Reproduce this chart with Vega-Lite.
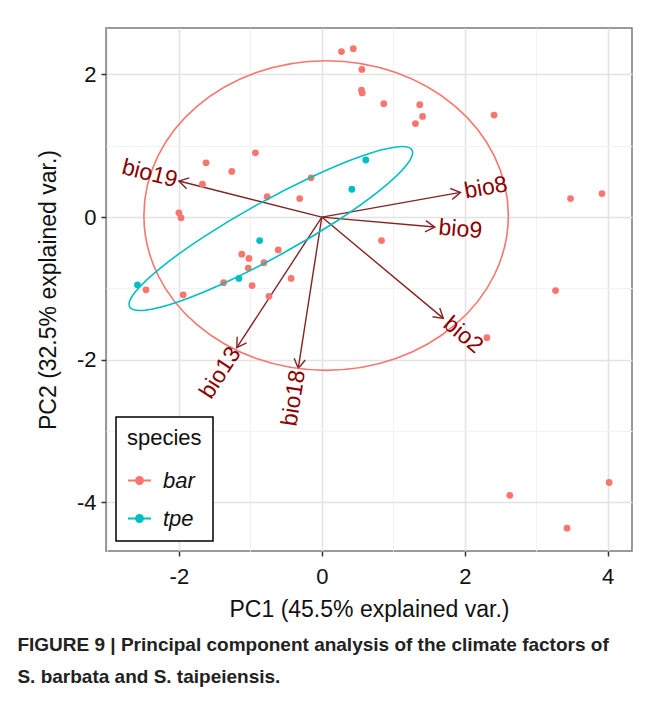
{
  "$schema": "https://vega.github.io/schema/vega-lite/v6.json",
  "width": 526,
  "height": 523,
  "autosize": "none",
  "padding": {"left": 106, "top": 28, "right": 22, "bottom": 165},
  "background": "white",
  "config": {
    "font": "Liberation Sans",
    "view": {"stroke": "#7a7a7a", "strokeWidth": 1.5},
    "legend": {"strokeWidth": 1.5}
  },
  "title": {
    "text": ["FIGURE 9 | Principal component analysis of the climate factors of", "S. barbata and S. taipeiensis."],
    "orient": "bottom",
    "anchor": "start",
    "dx": -20,
    "offset": 15,
    "font": "Liberation Sans Narrow, Liberation Sans",
    "fontSize": 19,
    "fontWeight": "bold",
    "lineHeight": 32,
    "color": "#222222"
  },
  "datasets": {
    "points": [
      {"pc1": 0.275, "pc2": 2.32, "species": "bar"},
      {"pc1": 0.44, "pc2": 2.36, "species": "bar"},
      {"pc1": 0.56, "pc2": 2.07, "species": "bar"},
      {"pc1": 0.555, "pc2": 1.78, "species": "bar"},
      {"pc1": 0.565, "pc2": 1.74, "species": "bar"},
      {"pc1": 0.867, "pc2": 1.59, "species": "bar"},
      {"pc1": 1.37, "pc2": 1.575, "species": "bar"},
      {"pc1": 1.41, "pc2": 1.41, "species": "bar"},
      {"pc1": 1.31, "pc2": 1.31, "species": "bar"},
      {"pc1": 2.41, "pc2": 1.43, "species": "bar"},
      {"pc1": 3.48, "pc2": 0.26, "species": "bar"},
      {"pc1": 3.92, "pc2": 0.33, "species": "bar"},
      {"pc1": -0.93, "pc2": 0.9, "species": "bar"},
      {"pc1": -1.62, "pc2": 0.76, "species": "bar"},
      {"pc1": -1.26, "pc2": 0.64, "species": "bar"},
      {"pc1": -1.67, "pc2": 0.46, "species": "bar"},
      {"pc1": -0.15, "pc2": 0.55, "species": "bar"},
      {"pc1": -0.765, "pc2": 0.285, "species": "bar"},
      {"pc1": -0.31, "pc2": 0.26, "species": "bar"},
      {"pc1": -2.0, "pc2": 0.06, "species": "bar"},
      {"pc1": -1.97, "pc2": -0.01, "species": "bar"},
      {"pc1": -1.12, "pc2": -0.52, "species": "bar"},
      {"pc1": -1.02, "pc2": -0.58, "species": "bar"},
      {"pc1": -0.61, "pc2": -0.46, "species": "bar"},
      {"pc1": -0.81, "pc2": -0.64, "species": "bar"},
      {"pc1": -1.03, "pc2": -0.715, "species": "bar"},
      {"pc1": -1.375, "pc2": -0.92, "species": "bar"},
      {"pc1": -0.975, "pc2": -0.96, "species": "bar"},
      {"pc1": -0.43, "pc2": -0.86, "species": "bar"},
      {"pc1": -2.46, "pc2": -1.02, "species": "bar"},
      {"pc1": -1.94, "pc2": -1.09, "species": "bar"},
      {"pc1": -0.74, "pc2": -1.11, "species": "bar"},
      {"pc1": 0.835, "pc2": -0.33, "species": "bar"},
      {"pc1": 3.27, "pc2": -1.03, "species": "bar"},
      {"pc1": 2.31, "pc2": -1.69, "species": "bar"},
      {"pc1": 2.63, "pc2": -3.9, "species": "bar"},
      {"pc1": 4.02, "pc2": -3.72, "species": "bar"},
      {"pc1": 3.43, "pc2": -4.36, "species": "bar"},
      {"pc1": 0.615, "pc2": 0.8, "species": "tpe"},
      {"pc1": 0.42, "pc2": 0.39, "species": "tpe"},
      {"pc1": -0.87, "pc2": -0.33, "species": "tpe"},
      {"pc1": -1.16, "pc2": -0.86, "species": "tpe"},
      {"pc1": -2.58, "pc2": -0.95, "species": "tpe"}
    ],
    "arrows": [
      {"var": "bio19", "pc1": -2.0, "pc2": 0.505},
      {"var": "bio8", "pc1": 1.94, "pc2": 0.346},
      {"var": "bio9", "pc1": 1.58, "pc2": -0.14},
      {"var": "bio2", "pc1": 1.7, "pc2": -1.42},
      {"var": "bio13", "pc1": -1.19, "pc2": -1.83},
      {"var": "bio18", "pc1": -0.33, "pc2": -2.12}
    ],
    "ellipses": [
      {"species": "bar", "i": 0, "pc1": 2.61, "pc2": 0.022},
      {"species": "bar", "i": 1, "pc1": 2.416, "pc2": 0.852},
      {"species": "bar", "i": 2, "pc1": 1.863, "pc2": 1.556},
      {"species": "bar", "i": 3, "pc1": 1.036, "pc2": 2.027},
      {"species": "bar", "i": 4, "pc1": 0.06, "pc2": 2.192},
      {"species": "bar", "i": 5, "pc1": -0.916, "pc2": 2.027},
      {"species": "bar", "i": 6, "pc1": -1.743, "pc2": 1.556},
      {"species": "bar", "i": 7, "pc1": -2.296, "pc2": 0.852},
      {"species": "bar", "i": 8, "pc1": -2.49, "pc2": 0.022},
      {"species": "bar", "i": 9, "pc1": -2.296, "pc2": -0.808},
      {"species": "bar", "i": 10, "pc1": -1.743, "pc2": -1.512},
      {"species": "bar", "i": 11, "pc1": -0.916, "pc2": -1.983},
      {"species": "bar", "i": 12, "pc1": 0.06, "pc2": -2.148},
      {"species": "bar", "i": 13, "pc1": 1.036, "pc2": -1.983},
      {"species": "bar", "i": 14, "pc1": 1.863, "pc2": -1.512},
      {"species": "bar", "i": 15, "pc1": 2.416, "pc2": -0.808},
      {"species": "tpe", "i": 0, "pc1": 1.262, "pc2": 0.938},
      {"species": "tpe", "i": 1, "pc1": 1.04, "pc2": 0.983},
      {"species": "tpe", "i": 2, "pc1": 0.551, "pc2": 0.854},
      {"species": "tpe", "i": 3, "pc1": -0.13, "pc2": 0.57},
      {"species": "tpe", "i": 4, "pc1": -0.9, "pc2": 0.175},
      {"species": "tpe", "i": 5, "pc1": -1.642, "pc2": -0.271},
      {"species": "tpe", "i": 6, "pc1": -2.242, "pc2": -0.7},
      {"species": "tpe", "i": 7, "pc1": -2.609, "pc2": -1.048},
      {"species": "tpe", "i": 8, "pc1": -2.688, "pc2": -1.26},
      {"species": "tpe", "i": 9, "pc1": -2.466, "pc2": -1.305},
      {"species": "tpe", "i": 10, "pc1": -1.977, "pc2": -1.176},
      {"species": "tpe", "i": 11, "pc1": -1.296, "pc2": -0.892},
      {"species": "tpe", "i": 12, "pc1": -0.526, "pc2": -0.497},
      {"species": "tpe", "i": 13, "pc1": 0.216, "pc2": -0.051},
      {"species": "tpe", "i": 14, "pc1": 0.816, "pc2": 0.378},
      {"species": "tpe", "i": 15, "pc1": 1.183, "pc2": 0.726}
    ]
  },
  "encoding": {
    "x": {
      "field": "pc1",
      "type": "quantitative",
      "scale": {"domain": [-3.02, 4.34], "nice": false, "zero": false},
      "axis": {
        "title": "PC1 (45.5% explained var.)",
        "values": [-3, -2, -1, 0, 1, 2, 3, 4],
        "labelExpr": "datum.value % 2 === 0 ? '' + datum.value : ''",
        "domain": false,
        "tickSize": 5,
        "tickWidth": 1.5,
        "tickColor": {"condition": {"test": "datum.value % 2 === 0", "value": "#333333"}, "value": "transparent"},
        "gridColor": {"condition": {"test": "datum.value % 2 === 0", "value": "#e3e3e3"}, "value": "#f2f2f2"},
        "gridWidth": {"condition": {"test": "datum.value % 2 === 0", "value": 1.6}, "value": 1},
        "labelFontSize": 22,
        "labelColor": "#111111",
        "labelPadding": 10,
        "labelOverlap": false,
        "labelFlush": false,
        "titleFontSize": 23,
        "titleFontWeight": "normal",
        "titleColor": "#111111",
        "titlePadding": 11
      }
    },
    "y": {
      "field": "pc2",
      "type": "quantitative",
      "scale": {"domain": [-4.68, 2.65], "nice": false, "zero": false},
      "axis": {
        "title": "PC2 (32.5% explained var.)",
        "values": [-4, -3, -2, -1, 0, 1, 2],
        "labelExpr": "datum.value % 2 === 0 ? '' + datum.value : ''",
        "domain": false,
        "tickSize": 5,
        "tickWidth": 1.5,
        "tickColor": {"condition": {"test": "datum.value % 2 === 0", "value": "#333333"}, "value": "transparent"},
        "gridColor": {"condition": {"test": "datum.value % 2 === 0", "value": "#e3e3e3"}, "value": "#f2f2f2"},
        "gridWidth": {"condition": {"test": "datum.value % 2 === 0", "value": 1.6}, "value": 1},
        "labelFontSize": 22,
        "labelColor": "#111111",
        "labelPadding": 5,
        "labelOverlap": false,
        "labelFlush": false,
        "titleFontSize": 23,
        "titleFontWeight": "normal",
        "titleColor": "#111111",
        "titlePadding": 16
      }
    }
  },
  "layer": [
    {
      "data": {"name": "arrows"},
      "mark": {"type": "rule", "color": "#832424", "strokeWidth": 1.4},
      "encoding": {
        "x2": {"datum": 0},
        "y2": {"datum": 0}
      }
    },
    {
      "data": {"name": "arrows"},
      "transform": [{"calculate": "atan2(datum.pc1, datum.pc2) * 180 / PI", "as": "heading"}],
      "mark": {"type": "point", "shape": "M-0.6,1L0,0L0.6,1", "filled": false, "size": 350, "stroke": "#832424", "strokeWidth": 1.4, "opacity": 1},
      "encoding": {
        "angle": {"field": "heading", "type": "quantitative", "scale": null}
      }
    },
    {
      "data": {"name": "points"},
      "mark": {"type": "circle", "size": 46, "opacity": 1},
      "encoding": {
        "color": {
          "field": "species",
          "type": "nominal",
          "scale": {"domain": ["bar", "tpe"], "range": ["#F8766D", "#00BFC4"]},
          "legend": {
            "title": "species",
            "orient": "bottom-left",
            "offset": 10,
            "padding": 11,
            "strokeColor": "#000000",
            "fillColor": "#ffffff",
            "titleFontSize": 22,
            "titleFontWeight": "normal",
            "titleColor": "#111111",
            "titlePadding": 18,
            "labelFontSize": 22,
            "labelFontStyle": "italic",
            "labelColor": "#111111",
            "labelOffset": 11,
            "rowPadding": 14,
            "symbolType": "M-1,0L1,0M0.3,0A0.3,0.3,0,1,1,-0.3,0A0.3,0.3,0,1,1,0.3,0Z",
            "symbolSize": 529,
            "symbolStrokeWidth": 2,
            "symbolOpacity": 1,
            "encode": {
              "symbols": {
                "update": {
                  "shape": {"value": "M-1,0L1,0M0.3,0A0.3,0.3,0,1,1,-0.3,0A0.3,0.3,0,1,1,0.3,0Z"},
                  "fill": {"scale": "color", "field": "value"},
                  "stroke": {"scale": "color", "field": "value"},
                  "strokeWidth": {"value": 2}
                }
              }
            }
          }
        }
      }
    },
    {
      "data": {"name": "ellipses"},
      "mark": {"type": "line", "interpolate": "cardinal-closed", "strokeWidth": 1.6},
      "encoding": {
        "color": {"field": "species", "type": "nominal", "legend": null},
        "order": {"field": "i", "type": "quantitative"}
      }
    },
    {
      "data": {"name": "arrows"},
      "transform": [
        {"filter": "datum.pc1 > 0"},
        {"calculate": "-atan(datum.pc2 / datum.pc1) * 180 / PI", "as": "tilt"}
      ],
      "mark": {"type": "text", "align": "left", "baseline": "middle", "dx": 4, "fontSize": 23, "color": "#8B0000"},
      "encoding": {
        "text": {"field": "var"},
        "angle": {"field": "tilt", "type": "quantitative", "scale": null}
      }
    },
    {
      "data": {"name": "arrows"},
      "transform": [
        {"filter": "datum.pc1 < 0"},
        {"calculate": "-atan(datum.pc2 / datum.pc1) * 180 / PI", "as": "tilt"}
      ],
      "mark": {"type": "text", "align": "right", "baseline": "middle", "dx": -2, "fontSize": 23, "color": "#8B0000"},
      "encoding": {
        "text": {"field": "var"},
        "angle": {"field": "tilt", "type": "quantitative", "scale": null}
      }
    }
  ]
}
